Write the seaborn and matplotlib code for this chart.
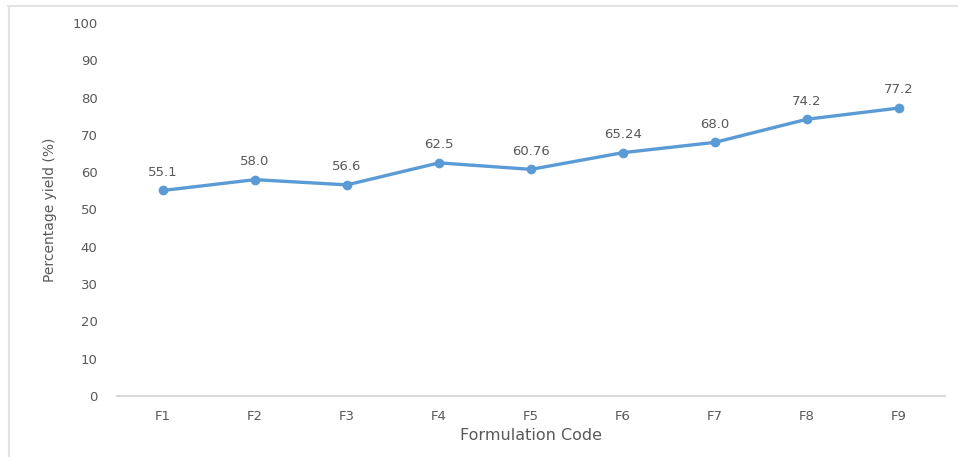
import matplotlib
matplotlib.use("Agg")
import matplotlib.pyplot as plt
from matplotlib.lines import Line2D
import pandas as pd
import seaborn as sns

# Percentage yield per formulation
formulations = ["F1", "F2", "F3", "F4", "F5", "F6", "F7", "F8", "F9"]
yields = [55.1, 58.0, 56.6, 62.5, 60.76, 65.24, 68.0, 74.2, 77.2]
value_labels = ["55.1", "58.0", "56.6", "62.5", "60.76", "65.24", "68.0", "74.2", "77.2"]
y_ticks = [0, 10, 20, 30, 40, 50, 60, 70, 80, 90, 100]

sns.set_style("white")
plt.rcParams["font.family"] = ["DejaVu Sans"]

TEXT = "#595959"
LINE = "#5B9BD5"
AXIS = "#D9D9D9"

df = pd.DataFrame({"Formulation": formulations, "Yield": yields})
df["pos"] = range(len(df))

fig = plt.figure(figsize=(9.58, 4.57), dpi=100)
ax = fig.add_axes([0.1221, 0.1335, 0.8643, 0.8162])

sns.lineplot(data=df, x="pos", y="Yield", ax=ax, color=LINE, linewidth=2.4,
             marker="o", markersize=7, markeredgewidth=0, markerfacecolor=LINE)

for x, y, lab in zip(df["pos"], df["Yield"], value_labels):
    ax.annotate(lab, (x, y), xytext=(0, 13), textcoords="offset points",
                ha="center", va="center", fontsize=9.5, color=TEXT)

ax.set_xlim(-0.5, len(formulations) - 0.5)
ax.set_ylim(0, 100)
ax.set_xticks(df["pos"])
ax.set_xticklabels(formulations)
ax.set_yticks(y_ticks)
ax.tick_params(axis="both", length=0, labelsize=9.5, colors=TEXT)
ax.tick_params(axis="x", pad=10)
ax.tick_params(axis="y", pad=14)

for side in ["top", "right", "left"]:
    ax.spines[side].set_visible(False)
ax.spines["bottom"].set_color(AXIS)
ax.spines["bottom"].set_linewidth(1.5)

ax.set_xlabel("Formulation Code", fontsize=11.5, color=TEXT, labelpad=4)
ax.set_ylabel("Percentage yield (%)", fontsize=10, color=TEXT, labelpad=11)

# Chart-area border (top and left edges)
fig.add_artist(Line2D([8 / 958, 1.0], [1 - 6 / 457, 1 - 6 / 457],
                      transform=fig.transFigure, color="#E3E3E3", linewidth=1.5))
fig.add_artist(Line2D([9 / 958, 9 / 958], [0, 1 - 6 / 457],
                      transform=fig.transFigure, color="#E3E3E3", linewidth=1.5))

fig.savefig("out.png", dpi=100)
